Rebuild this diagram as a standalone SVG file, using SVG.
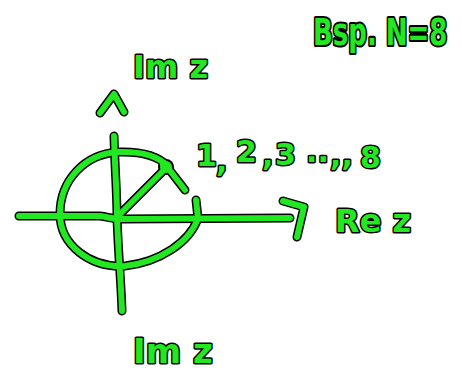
<svg xmlns="http://www.w3.org/2000/svg" width="462" height="373" viewBox="0 0 462 373">
<style>
.o{fill:none;stroke:#000;stroke-width:9;stroke-linecap:round;stroke-linejoin:round}
.g{fill:none;stroke:#22e822;stroke-width:6;stroke-linecap:round;stroke-linejoin:round}
.t{font-family:"DejaVu Sans",sans-serif;font-weight:bold;fill:#22e822;stroke:#000;stroke-width:3;paint-order:stroke;stroke-linejoin:round}
</style>
<defs>
<path id="circ" d="M196,200 L198,218 C190,242 160,262 125,266 C90,268 60,245 60,214 C60,180 85,154 118,152 C145,151 160,158 168,166"/>
<path id="vert" d="M114,136 C115,170 117,195 117,216 C118,250 121,280 122,311"/>
<path id="horz" d="M19,216 L100,216 C108,217 112,219 120,219 L290,218"/>
<path id="rad" d="M118,216 L166,168"/>
<path id="radhead" d="M163,164 L168,168 L185,190"/>
<path id="hhead" d="M283,201 L304,207 L297,237"/>
<path id="vhead" d="M100,113 L114,94 L124,112"/>
</defs>
<rect width="462" height="373" fill="#fff"/>
<g id="connectors">
<use href="#circ" class="o"/><use href="#vert" class="o"/><use href="#horz" class="o"/><use href="#rad" class="o"/><use href="#radhead" class="o"/><use href="#hhead" class="o"/><use href="#vhead" class="o"/>
<circle cx="166" cy="167" r="8" fill="#000"/>
<use href="#circ" class="g"/><use href="#vert" class="g"/><use href="#horz" class="g"/><use href="#rad" class="g"/><use href="#radhead" class="g"/><use href="#hhead" class="g"/><use href="#vhead" class="g"/>
<circle cx="166" cy="167" r="6" fill="#22e822"/>
</g>
<g id="title"><text class="t" transform="translate(313,45) scale(1,1.4)" x="0" y="0" font-size="26">Bsp. N=8</text></g>
<g id="im-top"><text class="t" x="133" y="78" font-size="32">Im z</text></g>
<g id="im-bottom"><text class="t" x="133" y="363" font-size="34">Im z</text></g>
<g id="re"><text class="t" x="335" y="232" font-size="32">Re z</text></g>
<g id="points"><text class="t" font-size="30"><tspan x="196" y="166">1</tspan><tspan x="216" y="172">,</tspan><tspan x="236" y="162">2</tspan><tspan x="262" y="166">,</tspan><tspan x="275" y="165">3</tspan><tspan x="306" y="162">..</tspan><tspan x="330" y="166">,,</tspan><tspan x="360" y="168">8</tspan></text></g>
</svg>
